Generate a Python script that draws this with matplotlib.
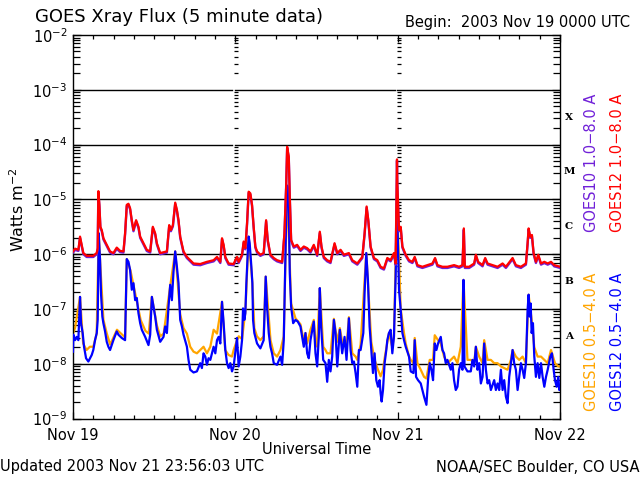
import matplotlib
matplotlib.use('Agg')
import matplotlib.pyplot as plt
import matplotlib.transforms as mtransforms
from matplotlib.ticker import FixedLocator, FixedFormatter, NullFormatter
import numpy as np

plt.rcParams['font.family'] = ['DejaVu Sans']
plt.rcParams['mathtext.fontset'] = 'dejavusans'

# ---------------- data (hours since 2003 Nov 19 00 UT, log10 flux W m^-2) ----------------
long12_hours = [0, 0.3, 0.8, 1.04, 1.28, 1.53, 2.02, 3.0, 3.5, 3.65, 3.75, 3.9, 4.05, 4.25, 4.5,
                4.99, 5.48, 5.97, 6.47, 6.96, 7.46, 7.7, 7.95, 8.2, 8.44, 8.69, 8.94, 9.33, 9.68,
                9.93, 10.42, 10.91, 11.41, 11.8, 12.15, 12.4, 12.89, 13.88, 14.22, 14.47, 14.77,
                15.11, 15.36, 15.6, 15.85, 16.34, 16.84, 17.82, 18.81, 19.8, 20.79, 21.29, 21.78,
                22.03, 22.27, 22.52, 23.01, 23.75,
                24.0, 24.25, 24.49, 24.99, 25.23, 25.48, 25.73, 25.97, 26.22, 26.47, 26.71, 26.96,
                27.21, 27.7, 28.19, 28.55, 28.79, 29.19, 29.68, 30.17, 30.92, 31.26, 31.51, 31.66,
                31.9, 32.05, 32.25, 32.64, 33.14, 33.63, 34.12, 34.62, 35.11, 35.6, 36.1, 36.49,
                36.74, 37.08, 37.58, 38.07, 38.67, 39.07, 39.56, 40.05, 40.79, 41.29, 42.03, 42.77,
                43.11, 43.41, 43.66, 44.0, 44.49, 44.99, 45.48, 45.97, 46.47, 46.96, 47.45, 47.7,
                47.9, 47.95, 48.2, 48.45, 48.7, 49.19, 49.68, 50.18, 50.52, 50.92, 51.66, 52.4,
                53.14, 53.53, 53.88, 54.62, 55.36, 56.34, 57.08, 57.58, 57.78, 57.93, 58.57, 59.31,
                59.56, 59.9, 60.55, 60.94, 61.29, 62.03, 62.77, 63.51, 64.0, 64.99, 65.48, 66.22,
                66.96, 67.21, 67.36, 67.6, 67.85, 68.1, 68.44, 68.79, 69.19, 69.68, 70.18, 70.67,
                71.16, 72.0]
long12_log = [-5.95, -5.90, -5.92, -5.68, -5.83, -5.98, -6.03, -6.03, -5.98, -5.89, -4.85, -5.10,
              -5.50, -5.56, -5.71, -5.83, -5.95, -5.98, -5.88, -5.94, -5.95, -5.62, -5.10, -5.08,
              -5.16, -5.38, -5.56, -5.38, -5.50, -5.68, -5.80, -5.92, -5.95, -5.50, -5.62, -5.80,
              -5.98, -5.95, -5.47, -5.56, -5.47, -5.06, -5.19, -5.38, -5.68, -5.95, -6.05, -6.17,
              -6.18, -6.14, -6.11, -6.05, -6.14, -5.71, -5.83, -6.05, -6.17, -6.18,
              -6.11, -6.05, -6.14, -6.01, -5.77, -5.89, -5.44, -4.86, -4.89, -5.10, -5.50, -5.86,
              -5.95, -6.01, -5.98, -5.38, -5.74, -6.01, -6.07, -6.11, -6.14, -5.62, -4.77, -4.04,
              -4.22, -4.95, -5.74, -5.86, -5.83, -5.92, -5.86, -5.89, -5.95, -5.83, -6.01, -5.59,
              -5.86, -6.05, -6.11, -6.14, -5.80, -5.98, -5.92, -6.01, -5.98, -6.11, -6.17, -6.05,
              -5.62, -5.13, -5.38, -5.86, -6.07, -6.11, -6.23, -6.26, -6.07, -6.11, -5.98, -6.17,
              -4.27, -4.71, -5.56, -5.50, -5.86, -6.01, -6.11, -6.14, -6.05, -6.20, -6.23, -6.20,
              -6.17, -6.07, -6.20, -6.23, -6.23, -6.20, -6.23, -6.20, -5.53, -6.23, -6.23, -6.17,
              -6.01, -6.14, -6.20, -6.07, -6.17, -6.20, -6.23, -6.17, -6.23, -6.07, -6.20, -6.23,
              -6.17, -5.80, -5.53, -5.68, -5.65, -5.98, -6.14, -6.01, -6.17, -6.14, -6.17, -6.14,
              -6.20, -6.23]

short12_hours = [0, 0.05, 0.3, 0.54, 0.79, 1.04, 1.19, 1.43, 1.63, 1.93, 2.27, 2.52, 2.77, 3.0,
                 3.26, 3.51, 3.65, 3.8, 4.0, 4.15, 4.34, 4.49, 4.74, 4.99, 5.23, 5.48, 5.97, 6.47,
                 6.71, 7.21, 7.7, 7.95, 8.2, 8.44, 8.69, 8.94, 9.19, 9.43, 9.68, 9.93, 10.17, 10.67,
                 11.16, 11.41, 11.66, 11.9, 12.15, 12.4, 12.89, 13.38, 13.63, 13.88, 14.12, 14.37,
                 14.62, 14.86, 15.11, 15.36, 15.6, 15.85, 16.1, 16.34, 16.84, 17.08, 17.33, 17.82,
                 18.32, 18.81, 19.06, 19.3, 19.56, 19.8, 20.04, 20.3, 20.79, 21.04, 21.29, 21.53,
                 21.78, 22.03, 22.27, 22.52, 22.77, 23.01, 23.26, 23.51, 23.75,
                 24.25, 24.49, 24.74, 24.99, 25.14, 25.33, 25.48, 25.63, 25.88, 25.97, 26.12, 26.37,
                 26.52, 26.62, 26.81, 27.21, 27.7, 28.19, 28.49, 28.69, 28.94, 29.19, 29.43, 29.68,
                 30.17, 30.67, 30.92, 31.16, 31.31, 31.51, 31.66, 31.81, 31.9, 32.05, 32.25, 32.55,
                 32.89, 33.23, 33.63, 33.88, 34.12, 34.37, 34.62, 34.86, 35.11, 35.6, 35.85, 36.1,
                 36.34, 36.49, 36.69, 36.99, 37.33, 37.58, 37.82, 38.07, 38.32, 38.57, 38.81, 39.07,
                 39.45, 39.8, 40.15, 40.44, 40.79, 41.04, 41.29, 41.53, 41.78, 42.03, 42.27, 42.52,
                 42.92, 43.11, 43.36, 43.6, 43.85, 44.1, 44.35, 44.59, 44.84, 45.09, 45.33, 45.48,
                 45.63, 45.83, 46.07, 46.32, 46.47, 46.71, 46.96, 47.21, 47.45, 47.7, 47.9,
                 48.05, 48.2, 48.45, 48.7, 48.94, 49.19, 49.68, 49.93, 50.33, 50.52, 50.72, 51.01,
                 51.41, 51.66, 51.9, 52.25, 52.49, 52.74, 52.99, 53.23, 53.48, 53.73, 53.97, 54.37,
                 54.62, 54.86, 55.11, 55.36, 55.85, 56.1, 56.34, 56.59, 56.84, 57.08, 57.33, 57.58,
                 57.73, 57.88, 58.32, 58.81, 59.06, 59.31, 59.56, 59.8, 60.05, 60.3, 60.55, 60.79,
                 61.04, 61.29, 61.53, 61.78, 62.27, 62.52, 62.77, 63.01, 63.26, 63.51, 63.75, 64.0,
                 64.25, 64.49, 64.74, 64.99, 65.23, 65.48, 65.73, 65.97, 66.22, 66.47, 66.71, 66.96,
                 67.21, 67.36, 67.51, 67.66, 67.81, 68.0, 68.2, 68.44, 68.69, 68.94, 69.19, 69.43,
                 69.68, 69.93, 70.18, 70.57, 70.81, 71.06, 71.26, 71.51, 71.75, 71.9, 72.0]
short12_log = [-7.78, -7.47, -7.57, -7.51, -7.57, -6.78, -7.26, -7.44, -7.69, -7.90, -7.96, -7.90,
               -7.84, -7.75, -7.57, -7.44, -7.20, -5.62, -6.11, -6.74, -7.14, -7.26, -7.41, -7.60,
               -7.69, -7.75, -7.57, -7.41, -7.47, -7.53, -7.57, -6.09, -6.14, -6.29, -6.65, -6.53,
               -6.84, -6.80, -7.08, -7.26, -7.38, -7.51, -7.66, -7.47, -6.78, -6.96, -7.14, -7.38,
               -7.60, -7.51, -7.32, -7.44, -6.96, -6.56, -6.84, -6.32, -5.95, -6.23, -6.53, -7.20,
               -7.32, -7.47, -7.69, -7.93, -8.11, -8.16, -8.14, -7.99, -8.08, -7.81, -7.87, -8.02,
               -7.90, -7.93, -7.69, -7.81, -7.57, -7.51, -7.63, -6.87, -7.26, -7.75, -7.99, -8.08,
               -7.99, -8.14, -8.05,
               -7.53, -8.05, -7.87, -7.57, -6.99, -7.20, -7.08, -6.53, -5.86, -5.68, -5.80, -6.23,
               -6.53, -7.20, -7.44, -7.63, -7.72, -7.57, -6.41, -6.96, -7.44, -7.69, -7.81, -7.99,
               -8.02, -7.87, -8.02, -7.57, -6.65, -5.38, -4.75, -4.83, -5.13, -6.35, -6.96, -7.26,
               -7.20, -7.23, -7.32, -7.51, -7.69, -7.44, -7.81, -7.90, -7.57, -7.23, -7.81, -8.05,
               -7.51, -6.62, -7.32, -7.93, -7.99, -8.33, -7.93, -8.14, -7.87, -7.20, -7.44, -8.05,
               -7.38, -7.81, -7.51, -7.93, -7.17, -7.75, -7.99, -7.96, -8.17, -8.42, -7.75, -7.75,
               -7.44, -6.71, -5.98, -6.47, -7.32, -7.75, -8.17, -7.81, -8.30, -8.42, -8.30, -8.54,
               -8.69, -8.48, -7.99, -7.75, -7.57, -7.44, -7.38, -7.81, -7.51, -6.41, -5.07,
               -5.86, -6.65, -7.02, -7.44, -7.57, -7.69, -7.87, -8.14, -8.17, -7.57, -8.24, -8.30,
               -8.36, -8.48, -8.60, -8.75, -8.30, -7.99, -8.11, -8.30, -7.63, -7.75, -7.63, -7.51,
               -7.75, -7.81, -7.99, -7.93, -8.11, -7.99, -8.30, -8.48, -8.42, -8.11, -7.99, -8.11,
               -6.47, -8.05, -8.14, -8.14, -7.93, -8.05, -7.69, -8.11, -7.99, -8.36, -8.24, -7.63,
               -8.11, -8.36, -8.30, -8.48, -8.30, -8.48, -8.36, -8.48, -8.11, -8.48, -8.30, -8.60,
               -8.72, -8.24, -7.99, -7.75, -7.99, -8.11, -8.48, -8.24, -7.99, -8.11, -8.26, -7.99,
               -7.02, -6.74, -7.14, -6.90, -7.44, -7.26, -7.87, -8.24, -7.99, -8.26, -7.99, -8.24,
               -8.42, -8.24, -8.11, -7.87, -7.81, -8.11, -8.30, -8.42, -8.24, -8.48, -8.42]

short10_hours = [0, 0.3, 1.04, 1.5, 2.0, 2.5, 3.0, 3.5, 3.8, 4.0, 4.5, 5.0, 5.5, 6.5, 7.7, 7.95,
                 8.5, 9.5, 10.0, 10.7, 11.2, 11.66, 12.4, 12.9, 13.4, 14.4, 15.11, 15.85, 16.34,
                 16.84, 17.33, 17.82, 18.32, 18.81, 19.3, 19.8, 20.3, 20.79, 21.29, 22.03, 22.5,
                 23.0, 23.5, 23.75,
                 24.25, 24.5, 24.99, 25.48, 25.97, 26.5, 26.81, 27.2, 27.7, 28.19, 28.49, 29.2,
                 29.68, 30.17, 30.67, 31.16, 31.66, 32.25, 32.89, 33.63, 33.88, 34.12, 34.37,
                 34.62, 35.11, 35.6, 35.85, 36.1, 36.49, 36.99, 37.33, 37.58, 38.07, 38.57, 39.07,
                 39.45, 39.8, 40.44, 40.79, 41.29, 41.78, 42.03, 42.52, 43.36, 44.1, 44.59, 45.09,
                 45.48, 45.83, 46.07, 46.71, 47.21, 47.45, 47.9,
                 48.45, 48.94, 49.19, 49.68, 49.93, 50.33, 50.52, 50.92, 51.41, 51.9, 52.25, 52.74,
                 53.23, 53.48, 53.97, 54.37, 54.86, 55.36, 55.85, 56.34, 56.84, 57.33, 57.73,
                 58.32, 58.81, 59.31, 59.56, 60.05, 60.55, 60.79, 61.29, 61.78, 62.27, 62.77,
                 63.26, 63.75, 64.25, 64.74, 64.99, 65.48, 65.97, 66.47, 66.96, 67.36, 67.81,
                 68.2, 68.69, 69.19, 69.68, 70.18, 70.67, 71.26, 71.75, 72.0]
short10_log = [-7.45, -7.35, -6.78, -7.63, -7.75, -7.69, -7.69, -7.45, -5.62, -6.11, -7.20, -7.45,
               -7.65, -7.38, -7.52, -6.09, -6.30, -6.90, -7.20, -7.40, -7.45, -6.78, -7.30, -7.50,
               -7.45, -6.56, -5.95, -7.10, -7.35, -7.45, -7.69, -7.78, -7.81, -7.75, -7.69, -7.81,
               -7.69, -7.38, -7.45, -6.87, -7.75, -7.84, -7.87, -7.75,
               -7.57, -7.50, -7.55, -7.05, -5.68, -6.50, -7.35, -7.50, -7.57, -7.50, -6.41, -7.57,
               -7.81, -7.87, -7.75, -7.50, -4.75, -6.90, -7.17, -7.28, -7.44, -7.57, -7.44, -7.63,
               -7.38, -7.20, -7.57, -7.69, -6.62, -7.69, -7.75, -7.81, -7.81, -7.18, -7.60, -7.35,
               -7.60, -7.70, -7.15, -7.81, -7.87, -7.93, -7.65, -5.98, -7.60, -7.93, -8.11, -8.23,
               -8.11, -7.90, -7.44, -7.70, -7.50, -5.07,
               -7.00, -7.44, -7.63, -7.87, -7.93, -7.99, -7.53, -7.99, -8.11, -8.24, -8.27, -7.93,
               -7.93, -7.48, -7.57, -7.63, -7.87, -7.99, -7.93, -7.87, -7.99, -7.69, -6.47, -7.93,
               -7.93, -7.99, -7.69, -7.87, -7.99, -7.57, -7.93, -7.93, -7.99, -7.99, -8.05, -8.08,
               -8.11, -7.93, -7.75, -7.87, -7.93, -7.87, -7.99, -6.74, -7.20, -7.70, -7.87, -7.87,
               -7.93, -7.99, -7.75, -7.99, -8.05, -8.05]

# GOES10 long channel: read as coinciding with the GOES12 long channel
long10_hours = long12_hours
long10_log = long12_log

day_ticks = [0, 24, 48, 72]
day_labels = ['Nov 19', 'Nov 20', 'Nov 21', 'Nov 22']
decades = [-9, -8, -7, -6, -5, -4, -3, -2]
grid_decades = [-8, -7, -6, -5, -4, -3]
class_letters = ['A', 'B', 'C', 'M', 'X']
class_decades = [-8, -7, -6, -5, -4]

RED = '#FF0000'
BLUE = '#0000FF'
ORANGE = '#FFA500'
PURPLE = '#7020D8'

fig = plt.figure(figsize=(6.4, 4.8), dpi=100)
ax = fig.add_axes([73 / 640, 1 - 418.5 / 480, 487 / 640, 383.5 / 480])
ax.set_yscale('log')
ax.set_xlim(0, 72)
ax.set_ylim(1e-9, 1e-2)

# horizontal decade lines, broken just before each day boundary
for d in grid_decades:
    v = 10.0 ** d
    for a, b in [(0, 23.55), (23.9, 47.55), (47.9, 72)]:
        ax.plot([a, b], [v, v], color='black', lw=1.0, zorder=1)

# tick columns at day boundaries
minor_vals = [m * 10.0 ** d for d in decades[:-1] for m in range(2, 10)]
for bd in [24, 48]:
    ax.hlines(minor_vals, bd - 0.15, bd + 0.45, color='black', lw=0.9, zorder=1)

# curves
purple_tr = mtransforms.offset_copy(ax.transData, fig=fig, x=0, y=-1.2, units='dots')
ax.plot(short10_hours, 10.0 ** np.array(short10_log), color=ORANGE, lw=1.6, zorder=2)
ax.plot(short12_hours, 10.0 ** np.array(short12_log), color=BLUE, lw=1.6, zorder=3)
ax.plot(long10_hours, 10.0 ** np.array(long10_log), color=PURPLE, lw=1.7, zorder=4,
        transform=purple_tr)
ax.plot(long12_hours, 10.0 ** np.array(long12_log), color=RED, lw=1.6, zorder=5)

# axes ticks
ax.xaxis.set_major_locator(FixedLocator(day_ticks))
ax.xaxis.set_major_formatter(FixedFormatter(day_labels))
ax.xaxis.set_minor_locator(FixedLocator(np.arange(0, 73, 3)))
ax.yaxis.set_major_locator(FixedLocator([10.0 ** d for d in decades]))
ax.yaxis.set_major_formatter(FixedFormatter([r'$10^{%d}$' % d for d in decades]))
ax.yaxis.set_minor_locator(FixedLocator(minor_vals))
ax.yaxis.set_minor_formatter(NullFormatter())
ax.tick_params(which='both', direction='in', top=True, right=True, width=0.9, colors='black')
ax.tick_params(axis='x', which='major', length=5, pad=7, labelsize=10.5)
ax.tick_params(axis='x', which='minor', length=3)
ax.tick_params(axis='y', which='major', length=6, pad=4, labelsize=10.5)
ax.tick_params(axis='y', which='minor', length=5)
for s in ax.spines.values():
    s.set_linewidth(1.0)

# flare class letters
blend = mtransforms.blended_transform_factory(ax.transAxes, ax.transData)
for letter, d in zip(class_letters, class_decades):
    ax.text(1.0185, 10.0 ** (d + 0.5), letter, transform=blend, ha='center', va='center',
            fontsize=7.5, fontweight='bold', family='DejaVu Serif', clip_on=False)

# texts
fig.text(35 / 640, 1 - 17 / 480, 'GOES Xray Flux (5 minute data)', fontsize=13,
         ha='left', va='center')
fig.text(405 / 640, 1 - 22 / 480, 'Begin:  2003 Nov 19 0000 UTC', fontsize=10.5,
         ha='left', va='center')
fig.text(18 / 640, 1 - 210 / 480, 'Watts m$^{-2}$', rotation=90, fontsize=11.5,
         ha='center', va='center')
fig.text(317 / 640, 1 - 450 / 480, 'Universal Time', fontsize=10.5, ha='center', va='center')
fig.text(0.0, 1 - 467 / 480, 'Updated 2003 Nov 21 23:56:03 UTC', fontsize=10.5,
         ha='left', va='center')
fig.text(1.0, 1 - 467 / 480, 'NOAA/SEC Boulder, CO USA', fontsize=10.5, ha='right', va='center')

fig.text(592 / 640, 1 - 163 / 480, 'GOES10 1.0\u22128.0 A', rotation=90, color=PURPLE,
         fontsize=10.5, ha='center', va='center')
fig.text(617 / 640, 1 - 163 / 480, 'GOES12 1.0\u22128.0 A', rotation=90, color=RED,
         fontsize=10.5, ha='center', va='center')
fig.text(592 / 640, 1 - 342 / 480, 'GOES10 0.5\u22124.0 A', rotation=90, color=ORANGE,
         fontsize=10.5, ha='center', va='center')
fig.text(617 / 640, 1 - 342 / 480, 'GOES12 0.5\u22124.0 A', rotation=90, color=BLUE,
         fontsize=10.5, ha='center', va='center')

fig.savefig('out.png', dpi=100)
